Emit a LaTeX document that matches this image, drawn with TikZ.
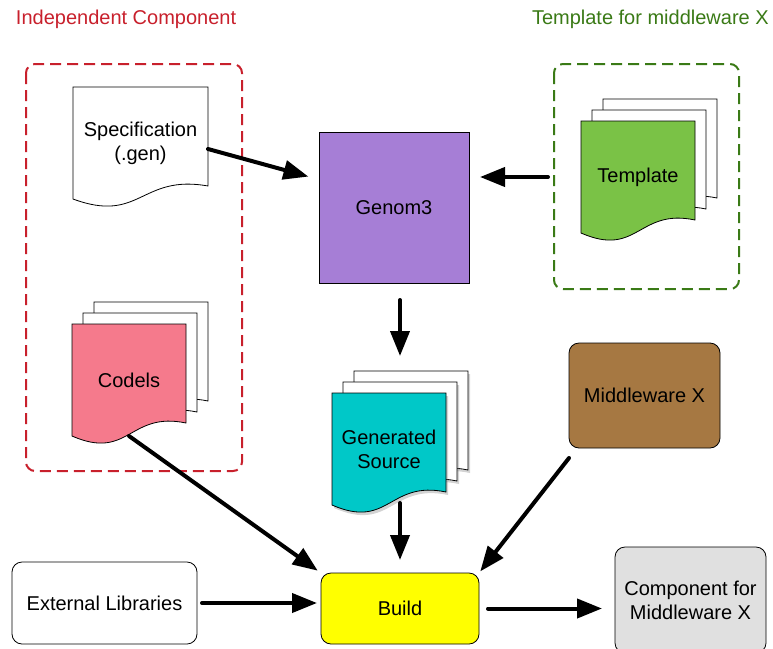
\documentclass[tikz,border=0pt]{standalone}
\usepackage{fontspec}
\setmainfont{Liberation Sans}
\usetikzlibrary{arrows.meta}
\usetikzlibrary{shadows}

\definecolor{indepred}{RGB}{200,32,44}
\definecolor{tmplgreen}{RGB}{58,122,22}
\definecolor{genomviolet}{RGB}{166,126,214}
\definecolor{tmplfill}{RGB}{122,194,70}
\definecolor{codelred}{RGB}{245,122,140}
\definecolor{gencyan}{RGB}{0,200,200}
\definecolor{mwbrown}{RGB}{166,120,66}
\definecolor{buildyellow}{RGB}{255,255,0}
\definecolor{compgray}{RGB}{224,224,224}

% one page of a document: left, top, width, fill, extra options
\newcommand{\docpage}[5]{%
  \filldraw[docline, fill=#4, #5] ({#1},{#2}) -- ({#1+#3},{#2}) -- ({#1+#3},{#2+99})
     .. controls ({#1+0.5*#3},{#2+87}) and ({#1+0.5*#3},{#2+137}) .. ({#1},{#2+112}) -- cycle;
}

\begin{document}
\begin{tikzpicture}[x=1pt, y=-1pt,
  every node/.style={font=\fontsize{20}{24}\selectfont, outer sep=0pt},
  docline/.style={draw=black, line width=0.8pt},
  groupbox/.style={line width=2pt, dash pattern=on 11pt off 6pt, rounded corners=9pt},
  box/.style={draw=black, line width=0.8pt, align=center, inner sep=2pt},
  doctext/.style={align=center, inner sep=0pt, minimum height=112pt},
  flow/.style={line width=4pt, line cap=round, -{Triangle[length=25pt, width=19pt]}}]

 \useasboundingbox (0,0) rectangle (773,648);

 %titles
 \node[anchor=west, inner sep=0pt, text=indepred] (indeptitle) at (16,19) {Independent Component};
 \node[anchor=west, inner sep=0pt, text=tmplgreen] (tmpltitle) at (532,19) {Template for middleware X};

 %groups
 \draw[groupbox, indepred] (26,64) rectangle (242,471);
 \draw[groupbox, tmplgreen] (554,64) rectangle (739,289);

 %specification
 \docpage{73}{87}{135}{white}{}
 \node[doctext, minimum width=135pt] (spec) at (140.5,143) {Specification\\(.gen)};

 %codels
 \def\dx{72}
 \def\dy{324}
 \foreach \k in {2,1} {
   \docpage{\dx+11*\k}{\dy-11*\k}{114}{white}{}
 }
 \docpage{\dx}{\dy}{114}{codelred}{}
 \node[doctext, minimum width=114pt] (codels) at (\dx+57,\dy+56) {Codels};

 %template
 \def\dx{581}
 \def\dy{121}
 \foreach \k in {2,1} {
   \docpage{\dx+11*\k}{\dy-11*\k}{114}{white}{}
 }
 \docpage{\dx}{\dy}{114}{tmplfill}{}
 \node[doctext, minimum width=114pt] (tmpl) at (\dx+57,\dy+56) {Template};

 %generated source
 \def\dx{332}
 \def\dy{393}
 \foreach \k in {2,1} {
   \docpage{\dx+11*\k}{\dy-11*\k}{114}{white}{drop shadow={shadow xshift=2pt, shadow yshift=-3pt, opacity=0.35}}
 }
 \docpage{\dx}{\dy}{114}{gencyan}{drop shadow={shadow xshift=2pt, shadow yshift=-3pt, opacity=0.35}}
 \node[doctext, minimum width=114pt] (gensrc) at (\dx+57,\dy+56) {Generated\\Source};

 %boxes
 \node[box, fill=genomviolet, minimum width=150pt, minimum height=151pt] (genom) at (394,207.5) {Genom3};
 \node[box, rounded corners=10pt, fill=mwbrown, minimum width=151pt, minimum height=105pt] (mw) at (644.5,395.5) {Middleware X};
 \node[box, rounded corners=10pt, fill=buildyellow, minimum width=158pt, minimum height=71pt] (build) at (400,608.5) {Build};
 \node[box, rounded corners=10pt, fill=white, minimum width=185pt, minimum height=82pt] (extlib) at (104.5,603) {External Libraries};
 \node[box, rounded corners=10pt, fill=compgray, minimum width=151pt, minimum height=106pt] (comp) at (690.5,600) {Component for\\Middleware X};

 %arrows
 \draw[flow, shorten >=11pt] ([yshift=-6pt]spec.east) -- ([yshift=28pt]genom.west);
 \draw[flow, shorten <=33pt, shorten >=11pt] (tmpl.west) -- (tmpl.west -| genom.east);
 \draw[flow, shorten <=17pt, shorten >=37pt] (genom.south -| build.north) -- (gensrc.north -| build.north);
 \draw[flow, shorten <=-2pt, shorten >=13pt] (gensrc.south -| build.north) -- (build.north);
 \draw[flow, shorten >=4pt] (codels.south) -- (build.north west);
 \draw[flow, shorten >=2pt] ([yshift=-10pt]mw.south west) -- (build.north east);
 \draw[flow, shorten <=5pt, shorten >=4pt] (extlib.east) -- (extlib.east -| build.west);
 \draw[flow, shorten <=9pt, shorten >=13pt] (build.east) -- (build.east -| comp.west);

\end{tikzpicture}
\end{document}
